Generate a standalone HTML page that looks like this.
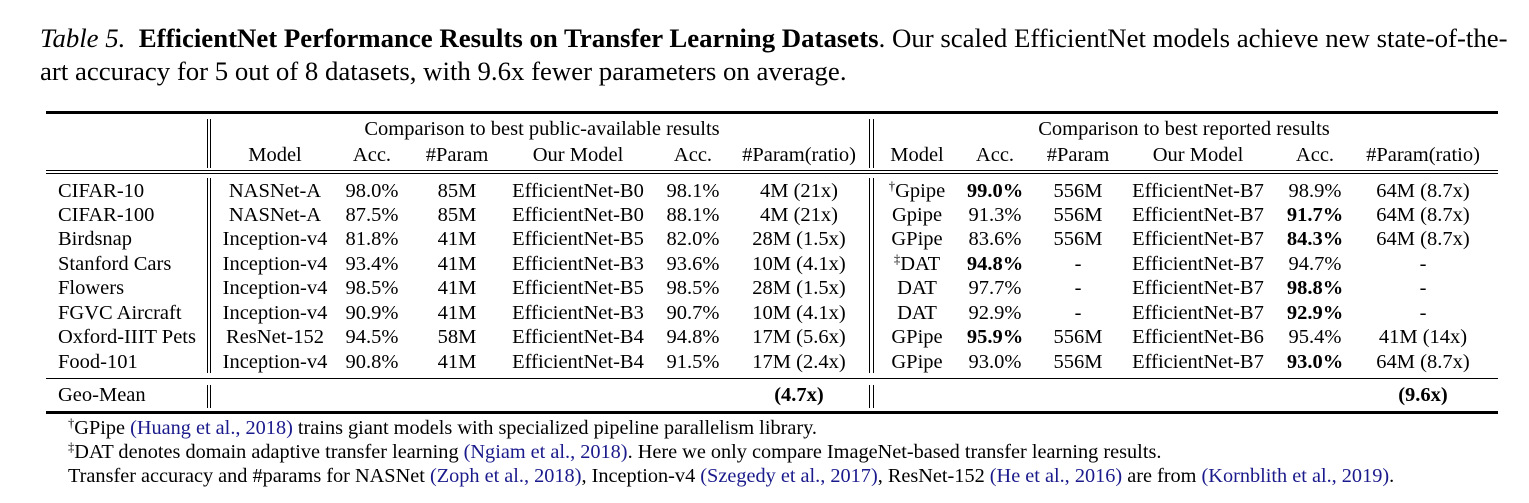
<!DOCTYPE html>
<html><head><meta charset="utf-8"><style>
body{margin:0;width:1529px;height:503px;background:#fff;position:relative;overflow:hidden;font-family:"Liberation Serif",serif;color:#000}
.t{position:absolute;white-space:nowrap;line-height:1;font-size:20.5px}
.c{transform:translateX(-50%)}
.r{position:absolute;background:#000}
b{font-weight:bold}
.a{color:#1a1a8c}
.f{font-size:20.3px}
sup{font-size:0.62em;vertical-align:0;position:relative;top:-0.55em}
</style></head><body>
<div class="t" style="left:40px;top:24.5px;font-size:26.8px"><i>Table 5.</i> &nbsp;<b>EfficientNet Performance Results on Transfer Learning Datasets</b>. Our scaled EfficientNet models achieve new state-of-the-</div>
<div class="t" style="left:40px;top:57.5px;font-size:26.8px">art accuracy for 5 out of 8 datasets, with 9.6x fewer parameters on average.</div>

<div class="r" style="left:46px;top:111px;width:1452px;height:3px"></div>
<div class="r" style="left:46px;top:170px;width:1452px;height:1px"></div>
<div class="r" style="left:46px;top:173px;width:1452px;height:1px"></div>
<div class="r" style="left:46px;top:378px;width:1452px;height:1px"></div>
<div class="r" style="left:46px;top:411px;width:1452px;height:3px"></div>

<div class="r" style="left:207px;top:119px;width:1px;height:49px"></div>
<div class="r" style="left:210px;top:119px;width:1px;height:49px"></div>
<div class="r" style="left:207px;top:178px;width:1px;height:195px"></div>
<div class="r" style="left:210px;top:178px;width:1px;height:195px"></div>
<div class="r" style="left:207px;top:385px;width:1px;height:23px"></div>
<div class="r" style="left:210px;top:385px;width:1px;height:23px"></div>
<div class="r" style="left:869px;top:119px;width:1px;height:49px"></div>
<div class="r" style="left:873px;top:119px;width:1px;height:49px"></div>
<div class="r" style="left:869px;top:178px;width:1px;height:195px"></div>
<div class="r" style="left:873px;top:178px;width:1px;height:195px"></div>
<div class="r" style="left:869px;top:385px;width:1px;height:23px"></div>
<div class="r" style="left:873px;top:385px;width:1px;height:23px"></div>

<div id="g"></div>
<script>
var rows=[
["CIFAR-10","NASNet-A","98.0%","85M","EfficientNet-B0","98.1%","4M (21x)","<sup>†</sup>Gpipe","<b>99.0%</b>","556M","EfficientNet-B7","98.9%","64M (8.7x)"],
["CIFAR-100","NASNet-A","87.5%","85M","EfficientNet-B0","88.1%","4M (21x)","Gpipe","91.3%","556M","EfficientNet-B7","<b>91.7%</b>","64M (8.7x)"],
["Birdsnap","Inception-v4","81.8%","41M","EfficientNet-B5","82.0%","28M (1.5x)","GPipe","83.6%","556M","EfficientNet-B7","<b>84.3%</b>","64M (8.7x)"],
["Stanford Cars","Inception-v4","93.4%","41M","EfficientNet-B3","93.6%","10M (4.1x)","<sup>‡</sup>DAT","<b>94.8%</b>","-","EfficientNet-B7","94.7%","-"],
["Flowers","Inception-v4","98.5%","41M","EfficientNet-B5","98.5%","28M (1.5x)","DAT","97.7%","-","EfficientNet-B7","<b>98.8%</b>","-"],
["FGVC Aircraft","Inception-v4","90.9%","41M","EfficientNet-B3","90.7%","10M (4.1x)","DAT","92.9%","-","EfficientNet-B7","<b>92.9%</b>","-"],
["Oxford-IIIT Pets","ResNet-152","94.5%","58M","EfficientNet-B4","94.8%","17M (5.6x)","GPipe","<b>95.9%</b>","556M","EfficientNet-B6","95.4%","41M (14x)"],
["Food-101","Inception-v4","90.8%","41M","EfficientNet-B4","91.5%","17M (2.4x)","GPipe","93.0%","556M","EfficientNet-B7","<b>93.0%</b>","64M (8.7x)"]];
var cx=[0,275,372,457,578,693,799,917,995,1078,1198,1315,1423];
var h="";
function T(x,b,s,cls){h+='<div class="t '+(cls||'c')+'" style="left:'+x+'px;top:'+(b-17)+'px">'+s+'</div>';}
T(542,136,"Comparison to best public-available results");
T(1184,136,"Comparison to best reported results");
var hd=["","Model","Acc.","#Param","Our Model","Acc.","#Param(ratio)","Model","Acc.","#Param","Our Model","Acc.","#Param(ratio)"];
for(var j=1;j<13;j++)T(cx[j],161.5,hd[j]);
for(var i=0;i<8;i++){var b=197.5+24.43*i;T(58,b,rows[i][0],"l");for(var j=1;j<13;j++)T(cx[j],b,rows[i][j]);}
T(58,402,"Geo-Mean","l");T(799,402,"<b>(4.7x)</b>");T(1423,402,"<b>(9.6x)</b>");
document.getElementById("g").outerHTML=h;
</script>
<div class="t f" style="left:68px;top:418px"><sup>†</sup>GPipe <span class="a">(Huang et al., 2018)</span> trains giant models with specialized pipeline parallelism library.</div>
<div class="t f" style="left:68px;top:442px"><sup>‡</sup>DAT denotes domain adaptive transfer learning <span class="a">(Ngiam et al., 2018)</span>. Here we only compare ImageNet-based transfer learning results.</div>
<div class="t f" style="left:68px;top:466px">Transfer accuracy and #params for NASNet <span class="a">(Zoph et al., 2018)</span>, Inception-v4 <span class="a">(Szegedy et al., 2017)</span>, ResNet-152 <span class="a">(He et al., 2016)</span> are from <span class="a">(Kornblith et al., 2019)</span>.</div>
</body></html>
